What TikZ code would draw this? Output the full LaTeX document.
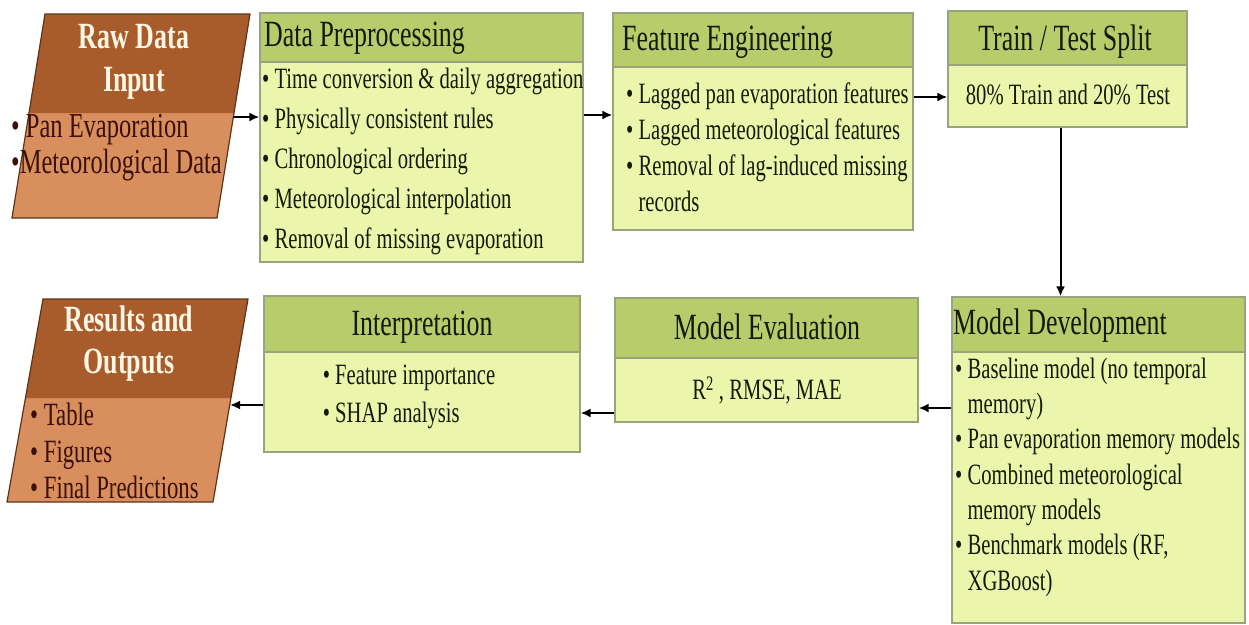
\documentclass[tikz,border=0pt]{standalone}
\usepackage{fontspec}
\setmainfont{Liberation Serif}[FakeStretch=0.7]
\usepackage{tikz}
\usetikzlibrary{arrows.meta}

\definecolor{headgreen}{HTML}{B8CC6C}
\definecolor{bodygreen}{HTML}{EBF6AC}
\definecolor{boxline}{HTML}{9AA47C}
\definecolor{headbrown}{HTML}{A85C2C}
\definecolor{bodybrown}{HTML}{D98E5E}
\definecolor{brownline}{HTML}{5C3418}
\definecolor{inkgreen}{HTML}{141A06}
\definecolor{inkbrown}{HTML}{3A1006}
\definecolor{cream}{HTML}{FFF6E4}

\newcommand{\bul}{\textbullet\ }
\newcommand{\ind}{\phantom{\textbullet\ }}

\begin{document}
\begin{tikzpicture}[x=1pt,y=-1pt,
  stage/.style={draw=boxline,fill=bodygreen,line width=1.2pt,inner sep=0pt},
  headbar/.style={draw=boxline,fill=headgreen,line width=1.2pt,inner sep=0pt,anchor=north},
  headtxt/.style={font=\fontsize{37}{40}\selectfont,text=inkgreen,inner sep=0pt},
  bodytxt/.style={font=\fontsize{29.5}{#1}\selectfont,text=inkgreen,align=left,inner sep=0pt},
  browntxt/.style={font=\fontsize{#1}{36}\selectfont,text=inkbrown,align=left,inner sep=0pt},
  brownhead/.style={font=\fontsize{37}{#1}\selectfont\bfseries,text=cream,align=center,inner sep=0pt},
  arr/.style={-{Latex[length=10pt,width=9pt]},line width=2pt}]
\useasboundingbox (0,0) rectangle (1249,624);

% raw data input
\coordinate (rawnw) at (45,14);  \coordinate (rawne) at (250,14);
\coordinate (rawse) at (217,218); \coordinate (rawsw) at (12,218);
\fill[bodybrown] (rawnw) -- (rawne) -- (rawse) -- (rawsw) -- cycle;
\fill[headbrown] (rawnw) -- (rawne) -- (234,113) -- (29,113) -- cycle;
\draw[brownline,line width=1.2pt] (rawnw) -- (rawne) -- (rawse) -- (rawsw) -- cycle;
\node[brownhead=43] (rawhead) at (134,62) {Raw Data\\Input};
\node[browntxt=35,anchor=west] (rawbody) at (11,148) {\bul Pan Evaporation\\\textbullet Meteorological Data};
\coordinate (rawout) at (233,117);

% data preprocessing
\node[stage,minimum width=323pt,minimum height=249pt] (dp) at (421.5,137.5) {};
\node[headbar,minimum width=323pt,minimum height=49pt] (dphead) at (dp.north) {};
\node[headtxt,anchor=west] (dplabel) at (264,38) {Data Preprocessing};
\node[bodytxt=40,anchor=west] (dpbody) at (262,161) {\bul Time conversion \& daily aggregation\\
  \bul Physically consistent rules\\\bul Chronological ordering\\
  \bul Meteorological interpolation\\\bul Removal of missing evaporation};

% feature engineering
\node[stage,minimum width=300pt,minimum height=217pt] (fe) at (763,121.5) {};
\node[headbar,minimum width=300pt,minimum height=54pt] (fehead) at (fe.north) {};
\node[headtxt,anchor=west] (felabel) at (622,42) {Feature Engineering};
\node[bodytxt=36,anchor=west] (febody) at (626,147) {\bul Lagged pan evaporation features\\
  \bul Lagged meteorological features\\\bul Removal of lag-induced missing\\\ind records};

% train / test split
\node[stage,minimum width=239pt,minimum height=116pt] (tt) at (1067.5,69) {};
\node[headbar,minimum width=239pt,minimum height=54pt] (tthead) at (tt.north) {};
\node[headtxt] (ttlabel) at (1065,42) {Train / Test Split};
\node[bodytxt=36] (ttbody) at (1068,94) {80\% Train and 20\% Test};

% model development
\node[stage,minimum width=293pt,minimum height=326pt] (md) at (1098.5,460) {};
\node[headbar,minimum width=293pt,minimum height=55pt] (mdhead) at (md.north) {};
\node[headtxt,anchor=west] (mdlabel) at (953,326) {Model Development};
\node[bodytxt=35.3,anchor=west] (mdbody) at (955,477) {\bul Baseline model (no temporal\\\ind memory)\\
  \bul Pan evaporation memory models\\\bul Combined meteorological\\\ind memory models\\
  \bul Benchmark models (RF,\\\ind XGBoost)};

% model evaluation
\node[stage,minimum width=303pt,minimum height=124pt] (me) at (766.5,360) {};
\node[headbar,minimum width=303pt,minimum height=60pt] (mehead) at (me.north) {};
\node[headtxt] (melabel) at (767,327) {Model Evaluation};
\node[bodytxt=36] (mebody) at (767,390) {R\textsuperscript{2} , RMSE, MAE};

% interpretation
\node[stage,minimum width=316pt,minimum height=156pt] (in) at (422,374) {};
\node[headbar,minimum width=316pt,minimum height=56pt] (inhead) at (in.north) {};
\node[headtxt] (inlabel) at (422,327) {Interpretation};
\node[bodytxt=38] (inbody) at (409,397) {\bul Feature importance\\\bul SHAP analysis};

% results and outputs
\coordinate (resnw) at (43,299);  \coordinate (resne) at (248,299);
\coordinate (resse) at (213,502); \coordinate (ressw) at (7,502);
\fill[bodybrown] (resnw) -- (resne) -- (resse) -- (ressw) -- cycle;
\fill[headbrown] (resnw) -- (resne) -- (231,398) -- (26,398) -- cycle;
\draw[brownline,line width=1.2pt] (resnw) -- (resne) -- (resse) -- (ressw) -- cycle;
\node[brownhead=42] (reshead) at (129,344) {Results and\\Outputs};
\node[browntxt=32.5,anchor=west] (resbody) at (30,451) {\bul Table\\[1pt]\bul Figures\\\bul Final Predictions};
\coordinate (resin) at (230,405);

% connectors
\draw[arr] (rawout) -- (rawout -| dp.west);
\draw[arr] ([yshift=22.5pt]dp.east) -- ([yshift=22.5pt]dp.east -| fe.west);
\draw[arr] ([yshift=24.5pt]fe.east) -- ([yshift=24.5pt]fe.east -| tt.west);
\draw[arr] ([xshift=-7pt]tt.south) -- ([xshift=-7pt]tt.south |- md.north);
\draw[arr] ([yshift=-48pt]me.east -| md.west) -- ([yshift=-48pt]me.east);
\draw[arr] ([yshift=-53pt]me.west) -- ([yshift=-53pt]me.west -| in.east);
\draw[arr] (resin -| in.west) -- (resin);
\end{tikzpicture}
\end{document}
